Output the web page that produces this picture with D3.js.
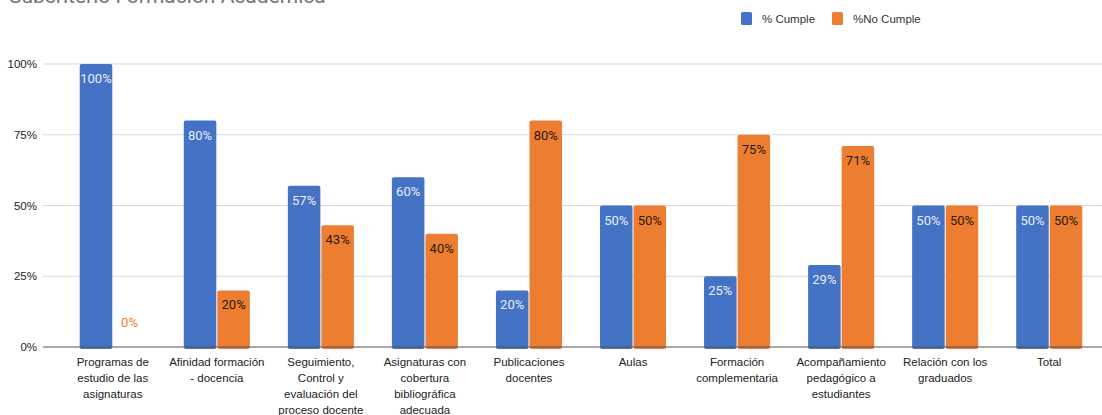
<!DOCTYPE html>
<html>
<head>
<meta charset="utf-8">
<script src="https://cdn.jsdelivr.net/npm/d3@7"></script>
<style>
  body { margin: 0; background: #fff; }
  svg { display: block; }
</style>
</head>
<body>
<svg id="chart" width="1102" height="415"></svg>
<script>
// Categories (x axis, wrapped lines)
const categories = [
  ["Programas de", "estudio de las", "asignaturas"],
  ["Afinidad formación", "- docencia"],
  ["Seguimiento,", "Control y", "evaluación del", "proceso docente"],
  ["Asignaturas con", "cobertura", "bibliográfica", "adecuada"],
  ["Publicaciones", "docentes"],
  ["Aulas"],
  ["Formación", "complementaria"],
  ["Acompañamiento", "pedagógico a", "estudiantes"],
  ["Relación con los", "graduados"],
  ["Total"]
];
const cumple = [100, 80, 57, 60, 20, 50, 25, 29, 50, 50];
const noCumple = [0, 20, 43, 40, 80, 50, 75, 71, 50, 50];
const seriesNames = ["% Cumple", "%No Cumple"];
const yTicks = [0, 25, 50, 75, 100];

const colors = ["#4472c4", "#ed7d31"];
const svg = d3.select("#chart");

// Title (cut off at the top like the original)
svg.append("text")
  .attr("x", 9).attr("y", 3)
  .attr("font-family", "Roboto, sans-serif")
  .attr("font-size", 21)
  .attr("fill", "#757575")
  .text("Subcriterio Formación Académica");

const x = d3.scaleBand()
  .domain(d3.range(categories.length))
  .range([61, 1101])
  .paddingInner(0.365)
  .paddingOuter(0.18);

const x1 = d3.scaleBand()
  .domain([0, 1])
  .range([0, x.bandwidth()])
  .paddingInner(0.03);

const y = d3.scaleLinear().domain([0, 100]).range([347, 64]);

// Gridlines
svg.append("g").selectAll("line")
  .data(yTicks.filter(t => t > 0))
  .join("line")
  .attr("x1", 43).attr("x2", 1102)
  .attr("y1", d => y(d)).attr("y2", d => y(d))
  .attr("stroke", "#d9d9d9").attr("stroke-width", 1.2);

// Y axis labels
const yAxis = d3.axisLeft(y).tickValues(yTicks).tickFormat(d => d + "%").tickSize(0).tickPadding(6);
svg.append("g")
  .attr("transform", "translate(43,0)")
  .call(yAxis)
  .call(g => g.select(".domain").remove())
  .call(g => g.selectAll("text")
    .attr("font-family", "'Liberation Sans', Arial, sans-serif")
    .attr("font-size", 11.5)
    .attr("fill", "#222"));

// Bars
const groups = svg.append("g").selectAll("g")
  .data(categories.map((c, i) => i))
  .join("g")
  .attr("transform", i => `translate(${x(i)},0)`);

[cumple, noCumple].forEach((vals, s) => {
  groups.filter(i => vals[i] > 0)
    .append("rect")
    .attr("x", x1(s))
    .attr("width", x1.bandwidth())
    .attr("y", i => y(vals[i]))
    .attr("height", i => y(0) - y(vals[i]) + 2)
    .attr("rx", 2)
    .attr("fill", colors[s]);

  groups.append("text")
    .attr("x", x1(s) + x1.bandwidth() / 2)
    .attr("y", i => vals[i] > 0 ? y(vals[i]) + 19 : y(0) - 20)
    .attr("text-anchor", "middle")
    .attr("font-family", "Roboto, sans-serif")
    .attr("font-size", 13)
    .attr("fill", i => vals[i] > 0 ? (s === 0 ? "#e8edf8" : "#2b1a0e") : colors[s])
    .text(i => vals[i] + "%");
});

// Baseline
svg.append("line")
  .attr("x1", 43).attr("x2", 1102)
  .attr("y1", y(0)).attr("y2", y(0))
  .attr("stroke", "#555").attr("stroke-width", 1.2);

// Category labels
groups.append("text")
  .attr("text-anchor", "middle")
  .attr("font-family", "'Liberation Sans', Arial, sans-serif")
  .attr("font-size", 11.5)
  .attr("fill", "#222")
  .each(function(i) {
    d3.select(this).selectAll("tspan")
      .data(categories[i])
      .join("tspan")
      .attr("x", x.bandwidth() / 2)
      .attr("y", (d, k) => 366 + k * 16)
      .text(d => d);
  });

// Legend
const legend = svg.append("g").attr("transform", "translate(741,12)");
const lx = [0, 91];
seriesNames.forEach((name, s) => {
  legend.append("rect")
    .attr("x", lx[s]).attr("y", 0)
    .attr("width", 11).attr("height", 13)
    .attr("rx", 1.5)
    .attr("fill", colors[s]);
  legend.append("text")
    .attr("x", lx[s] + 21).attr("y", 11)
    .attr("font-family", "'Liberation Sans', Arial, sans-serif")
    .attr("font-size", 11.5)
    .attr("fill", "#333")
    .text(name);
});
</script>
</body>
</html>
